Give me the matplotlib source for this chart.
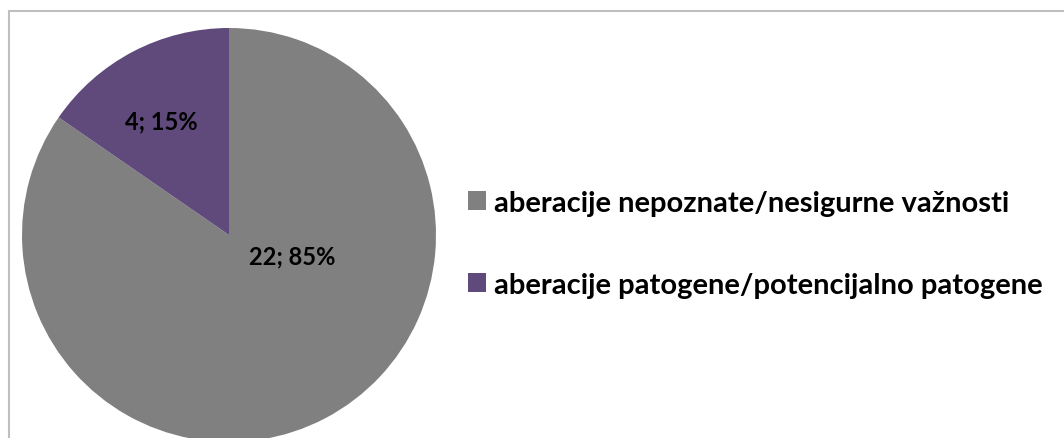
import matplotlib.pyplot as plt
from matplotlib.patches import Rectangle

# Aberration counts by category
categories = ['aberacije nepoznate/nesigurne važnosti',
              'aberacije patogene/potencijalno patogene']
counts = [22, 4]
colors = ['#808080', '#604A7B']

W, H = 1064, 439
fig = plt.figure(figsize=(W / 100, H / 100), dpi=100)
plt.rcParams['font.family'] = ['Lato', 'DejaVu Sans']

# chart area border
fig.patches.append(Rectangle((8.5 / W, -0.1), 1.2, (H - 11.5) / H + 0.1,
                             transform=fig.transFigure, fill=False,
                             edgecolor='#BFBFBF', linewidth=1.5))

cx, cy, r = 229, 236, 207
ax = fig.add_axes([(cx - r) / W, (H - cy - r) / H, 2 * r / W, 2 * r / H])
wedges, _ = ax.pie(counts, colors=colors, startangle=90, counterclock=False,
                   radius=1.0)
ax.set_xlim(-1, 1)
ax.set_ylim(-1, 1)
ax.set_aspect('auto')
ax.axis('off')

total = sum(counts)
label_pos = [(0.305, -0.10), (-0.325, 0.55)]
for n, (x, y) in zip(counts, label_pos):
    ax.text(x, y, f'{n}; {round(100 * n / total)}%', ha='center', va='center',
            fontsize=17, fontweight='bold', color='black')

fig.legend(wedges, categories, loc='center left',
           bbox_to_anchor=(456 / W, (H - 245) / H),
           frameon=False, borderaxespad=0, handlelength=0.62,
           handleheight=0.62, handletextpad=0.3, labelspacing=1.93,
           prop={'size': 21, 'weight': 'bold'})

fig.savefig('out.png', dpi=100)
